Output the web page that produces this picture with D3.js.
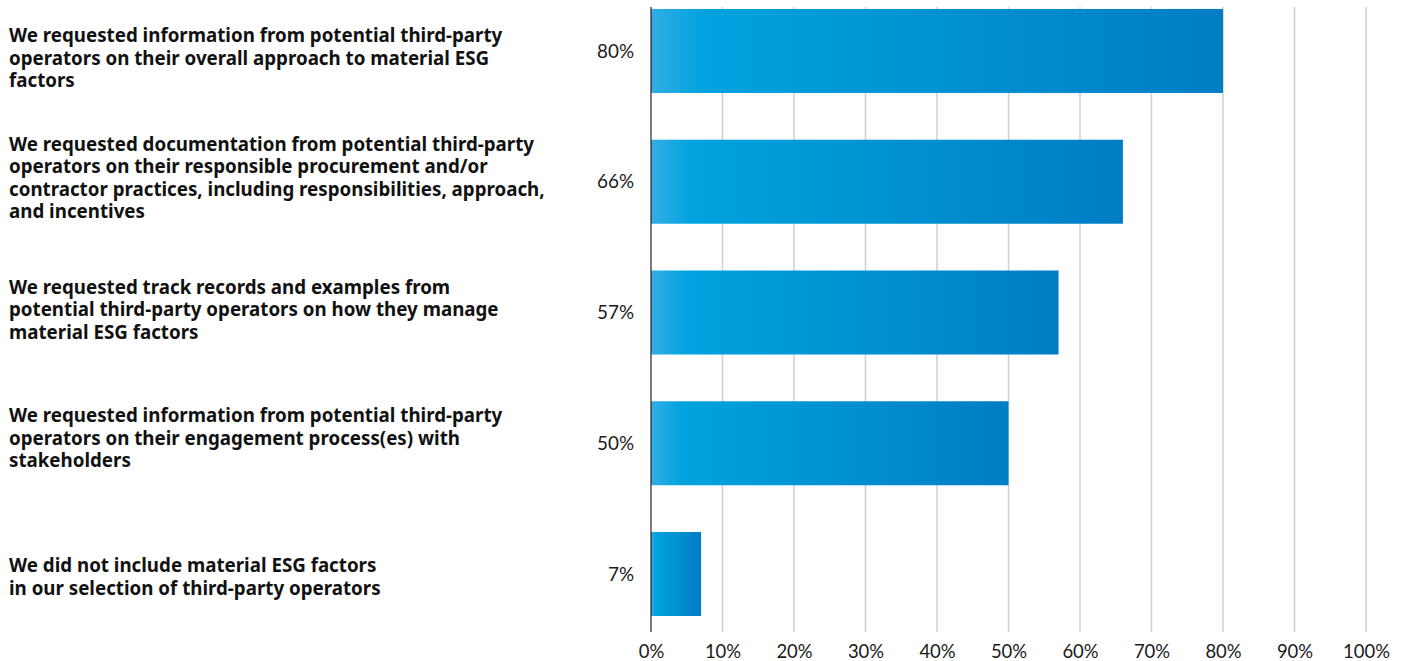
<!DOCTYPE html>
<html><head><meta charset="utf-8">
<script src="https://cdn.jsdelivr.net/npm/d3@7"></script>
<style>
html,body{margin:0;padding:0;background:#fff;}
svg{display:block;}
</style></head>
<body>
<svg id="chart" width="1405" height="661"></svg>
<script>
const categories = [
  ["We requested information from potential third-party","operators on their overall approach to material ESG","factors"],
  ["We requested documentation from potential third-party","operators on their responsible procurement and/or","contractor practices, including responsibilities, approach,","and incentives"],
  ["We requested track records and examples from","potential third-party operators on how they manage","material ESG factors"],
  ["We requested information from potential third-party","operators on their engagement process(es) with","stakeholders"],
  ["We did not include material ESG factors","in our selection of third-party operators"]
];
const values = [80, 66, 57, 50, 7];
const tickValues = [0,10,20,30,40,50,60,70,80,90,100];
const tickLabels = ["0%","10%","20%","30%","40%","50%","60%","70%","80%","90%","100%"];

// layout (not data)
const labelShift = [7, -4, -3, -5, 3];

const svg = d3.select("#chart");
const x = d3.scaleLinear().domain([0,100]).range([651,1366]);
const y = d3.scaleBand().domain(d3.range(values.length)).range([-14.4, 639.4]).paddingInner(0.3576).paddingOuter(0.1788);

const defs = svg.append("defs");
const grad = defs.append("linearGradient").attr("id","barGrad").attr("x1","0").attr("x2","1").attr("y1","0").attr("y2","0");
grad.append("stop").attr("offset","0").attr("stop-color","#33ade4");
grad.append("stop").attr("offset","0.09").attr("stop-color","#00a3df");
grad.append("stop").attr("offset","1").attr("stop-color","#007dc5");

const gridTop = 7, gridBottom = 632;
svg.append("g").selectAll("line").data(tickValues.slice(1)).join("line")
  .attr("x1", d=>x(d)).attr("x2", d=>x(d)).attr("y1", gridTop).attr("y2", gridBottom)
  .attr("stroke","#cfcfcf").attr("stroke-width",1.5);

svg.append("g").selectAll("rect").data(values).join("rect")
  .attr("x", x(0)).attr("y", (d,i)=>y(i))
  .attr("width", d=>x(d)-x(0)).attr("height", y.bandwidth())
  .attr("fill","url(#barGrad)");

svg.append("line").attr("x1",x(0)).attr("x2",x(0)).attr("y1",gridTop).attr("y2",gridBottom)
  .attr("stroke","#222").attr("stroke-width",1.2);

function fitSize(sel, sample, target, base){
  const t = svg.append("text").style("font-family",sel.family).style("font-weight",sel.weight)
    .style("font-size",base+"px").text(sample);
  const w = t.node().getComputedTextLength();
  t.remove();
  return base*target/w;
}
const numFont = {family:"Lato, 'Open Sans', sans-serif", weight:400};
const valSize = fitSize(numFont, "80%", 37, 16);
const tickSize = fitSize(numFont, "100%", 47, 16);
const labFont = {family:"'Noto Sans', 'Open Sans', sans-serif", weight:700};
const labSize = fitSize(labFont, "contractor practices, including responsibilities, approach,", 536, 17);

// value labels
svg.append("g").selectAll("text").data(values).join("text")
  .attr("x", 634).attr("y",(d,i)=>y(i)+y.bandwidth()/2)
  .attr("dy","0.35em").attr("text-anchor","end")
  .style("font-family",numFont.family).style("font-size",valSize+"px").style("font-weight",numFont.weight)
  .attr("fill","#1a1a1a").text(d=>d+"%");

// category labels
const lh = 22.5;
const lab = svg.append("g");
categories.forEach((lines,i)=>{
  const cy = y(i)+y.bandwidth()/2 + labelShift[i];
  const t = lab.append("text")
    .style("font-family",labFont.family).style("font-size",labSize+"px").style("font-weight",labFont.weight)
    .attr("fill","#111");
  lines.forEach((ln,j)=>{
    t.append("tspan").attr("x",9).attr("y", cy + (j-(lines.length-1)/2)*lh).attr("dy","0.35em").text(ln);
  });
});

// x axis tick labels
const ax = svg.append("g").attr("transform",`translate(0,${gridBottom})`)
  .call(d3.axisBottom(x).tickValues(tickValues).tickFormat((d,i)=>tickLabels[i]).tickSize(0).tickPadding(13));
ax.select(".domain").remove();
ax.selectAll("text").style("font-family",numFont.family).style("font-size",tickSize+"px")
  .style("font-weight",numFont.weight).attr("fill","#1a1a1a");
</script>
</body></html>
